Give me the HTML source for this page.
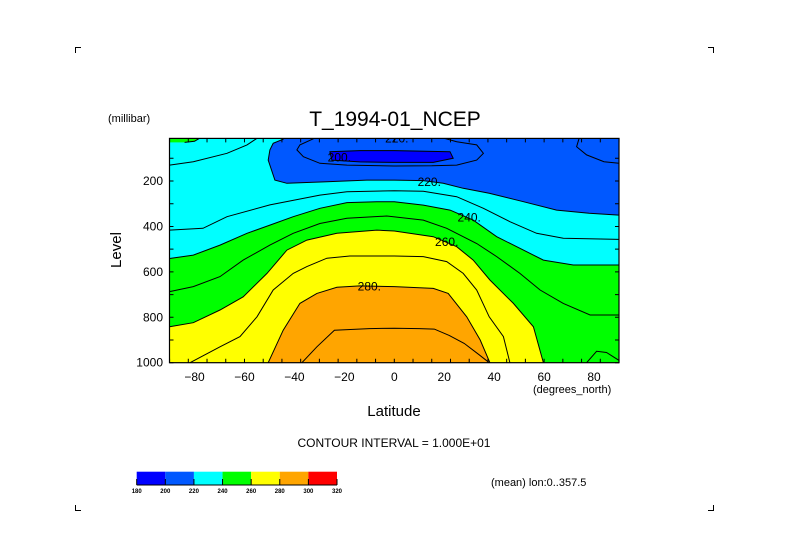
<!DOCTYPE html>
<html><head><meta charset="utf-8">
<style>
html,body{margin:0;padding:0;background:#fff;}
svg{display:block;}
text{font-family:"Liberation Sans",sans-serif;fill:#000;}
</style></head>
<body>
<svg id="chart" width="789" height="558" viewBox="0 0 789 558" xmlns="http://www.w3.org/2000/svg">
  <defs><clipPath id="plotclip"><rect x="169.5" y="138.4" width="449.5" height="224.3"/></clipPath></defs>
  <g stroke="#000" stroke-width="1" fill="none">
    <path d="M75.5 53V47.5H81"/><path d="M708 47.5H713.5V53"/>
    <path d="M75.5 505V510.5H81"/><path d="M708 510.5H713.5V505"/>
  </g>
  <text x="395" y="126" font-size="21" text-anchor="middle">T_1994-01_NCEP</text>
  <text x="108" y="122" font-size="11">(millibar)</text>
  <g id="plot"></g>
  <text x="533" y="393" font-size="11">(degrees_north)</text>
  <text x="394" y="416" font-size="15" text-anchor="middle">Latitude</text>
  <text x="121" y="250" font-size="15" text-anchor="middle" transform="rotate(-90 121 250)">Level</text>
  <text x="394" y="447" font-size="12" text-anchor="middle">CONTOUR INTERVAL = 1.000E+01</text>
  <text x="491" y="486" font-size="11">(mean) lon:0..357.5</text>
  <g id="cbar"></g>
</svg>
<script>
const latitudeTicks = [-80,-60,-40,-20,0,20,40,60,80];
const levelTicks = [200,400,600,800,1000];
const colorbarLevels = [180,200,220,240,260,280,300,320];
const bandColors = ["#0000ff","#0058ff","#00ffff","#00ff00","#ffff00","#ffa500","#ff0000"];
// isotherm boundaries: [lat, pressure] pairs
const iso220 = [[-90,12],[-44.5,12],[-44.5,16],[-48.5,34],[-49.8,63],[-50.5,108],[-47.8,196],[-43,210],[-27,203],[-11,196],[0,196],[11.6,198],[19.6,210],[27.6,232],[38,254],[51.7,291],[65,328],[78,342],[90,350]];
const iso240 = [[-90,541],[-80.5,526],[-69.8,482],[-59,430],[-49.8,394],[-40.5,357],[-29.8,320],[-19,295],[-7,291],[0,291],[11.6,306],[22.3,328],[31.6,372],[41,445],[51.7,504],[59.7,548],[71.7,570],[90,570]];
const iso240top = [[-90,12],[-78,12],[-80,25],[-84,30],[-90,30]];
const iso260 = [[-90,842],[-80.5,824],[-69.8,768],[-60.5,710],[-51,607],[-43,504],[-35,460],[-23,430],[-7,416],[0,420],[15.6,445],[25,489],[31.6,548],[38.3,636],[47.7,739],[55.7,842],[59.7,1000]];
const iso280 = [[-50.5,1000],[-44.5,857],[-37.8,739],[-31,695],[-23,668],[-13.8,662],[0,665],[15.6,673],[21.6,695],[29,798],[34.4,900],[38.3,1000]];
const iso200 = [[-25.8,71],[-25,108],[-13.8,116],[0,118],[15.6,118],[23.6,100],[22.3,71],[0,66],[-13.8,66]];
const iso210 = [[-32,12],[-37.8,41],[-39,63],[-36.4,93],[-29.8,122],[-19,130],[0,134],[15,133],[25,130],[33,108],[35.7,78],[33,41],[25,27],[20,12]];
const iso210b = [[74,12],[73,49],[77,85],[84,115],[90,122]];
const iso230 = [[-90,416],[-76.6,408],[-67,357],[-49.8,305],[-29.8,262],[-19,247],[0,243],[11.6,245],[25,269],[35.7,320],[46.3,379],[57,430],[67.7,452],[90,457]];
const iso230top = [[-90,130],[-80.5,115],[-67,78],[-59,41],[-55,12]];
const iso250 = [[-90,687],[-80.5,665],[-69.8,621],[-60.5,548],[-49.8,482],[-40.5,430],[-29.8,387],[-19,364],[-3,354],[11.6,372],[21,408],[33,475],[41,533],[50.3,607],[58.4,680],[67.7,739],[78.4,790],[90,790]];
const iso250b = [[77,1000],[81,950],[85,955],[90,990]];
const iso270 = [[-81.8,1000],[-69.8,930],[-61.8,885],[-55,798],[-48.5,680],[-40.5,607],[-35,577],[-27,540],[-17.8,530],[0,530],[11.6,533],[21,555],[27.6,607],[33,680],[38,798],[43.7,885],[46.3,1000]];
const iso290 = [[-37,1000],[-31,930],[-24,857],[-10,850],[0,848],[10,850],[16,852],[22,880],[28,915],[34,965],[38,1000]];
const contourLabels = [["200.",-22,97],["220.",1,12],["220.",14,205],["240.",30,360],["260.",21,468],["280.",-10,665]];

const NS="http://www.w3.org/2000/svg";
const X = lat => 394.3 + 2.497*lat;
const Y = p => 135.6 + 0.2271*p;
const plot = document.getElementById('plot');
function mk(tag, attrs, parent){const e=document.createElementNS(NS,tag);for(const k in attrs)e.setAttribute(k,attrs[k]);parent.appendChild(e);return e;}
const fillG = mk('g',{'clip-path':'url(#plotclip)'},plot);
const pts = a => a.map(p=>X(p[0]).toFixed(1)+','+Y(p[1]).toFixed(1)).join(' ');
const down = a => { const f=a[0], l=a[a.length-1]; return pts(a)+' '+X(l[0])+','+Y(1050)+' '+X(f[0])+','+Y(1050); };

let bg = mk('rect',{x:169.5,y:138.4,width:449.5,height:224.3,fill:bandColors[1]},fillG);


const bands=[[iso220,2,'band-220-240'],[iso240,3,'band-240-260'],[iso260,4,'band-260-280'],[iso280,5,'band-280-300']];
bands.forEach(b=>{
  const e=mk('polygon',{points:down(b[0]),fill:bandColors[b[1]]},fillG);
  
  
});
let tg=mk('polygon',{points:pts(iso240top),fill:bandColors[3]},fillG);


let db=mk('polygon',{points:pts(iso200),fill:bandColors[0],stroke:'#000','stroke-width':1},fillG);


[iso220,iso240,iso240top.slice(1,4),iso260,iso280,iso210,iso210b,iso230,iso230top,iso250,iso250b,iso270,iso290].forEach(a=>{
  const e=mk('polyline',{points:pts(a),fill:'none',stroke:'#000','stroke-width':1},fillG);
  
  
});
contourLabels.forEach(c=>{
  const t=mk('text',{x:X(c[1]),y:Y(c[2])+4,'font-size':12,'text-anchor':'middle'},fillG);
  t.textContent=c[0];
  
  
});
// frame
let fr=mk('rect',{x:169.5,y:138.4,width:449.5,height:224.3,fill:'none',stroke:'#000','stroke-width':1.2},plot);


// minor ticks
let tk='';
for(let l=-90;l<=90;l+=7.5){tk+=`M${X(l)} 362.7v-4M${X(l)} 138.4v4`;}
for(let p=100;p<=1000;p+=100){tk+=`M169.5 ${Y(p)}h4M619 ${Y(p)}h-4`;}
let tp=mk('path',{d:tk,stroke:'#000','stroke-width':1,fill:'none'},plot);


latitudeTicks.forEach(l=>{
  const t=mk('text',{x:X(l),y:381,'font-size':12,'text-anchor':'middle'},plot);
  t.textContent=l<0?'\u2212'+(-l):String(l);
  
  
});
levelTicks.forEach(p=>{
  const t=mk('text',{x:163,y:Y(p)+4,'font-size':12,'text-anchor':'end'},plot);
  t.textContent=String(p);
  
  
});
// colorbar
const cb=document.getElementById('cbar');
const cx0=136.7, cw=(337-136.7)/7;
bandColors.forEach((c,i)=>{
  const r=mk('rect',{x:cx0+i*cw,y:471.7,width:cw,height:13.3,fill:c},cb);
  
  
});
let cbl=mk('path',{d:`M${cx0} 485H337`+colorbarLevels.map((v,i)=>`M${cx0+i*cw} 485v-6`).join(''),stroke:'#000','stroke-width':1,fill:'none'},cb);


colorbarLevels.forEach((v,i)=>{
  const t=mk('text',{x:cx0+i*cw,y:493,'font-size':6,'font-weight':'bold','text-anchor':'middle'},cb);
  t.textContent=String(v);
  
  
});
</script>
</body></html>
